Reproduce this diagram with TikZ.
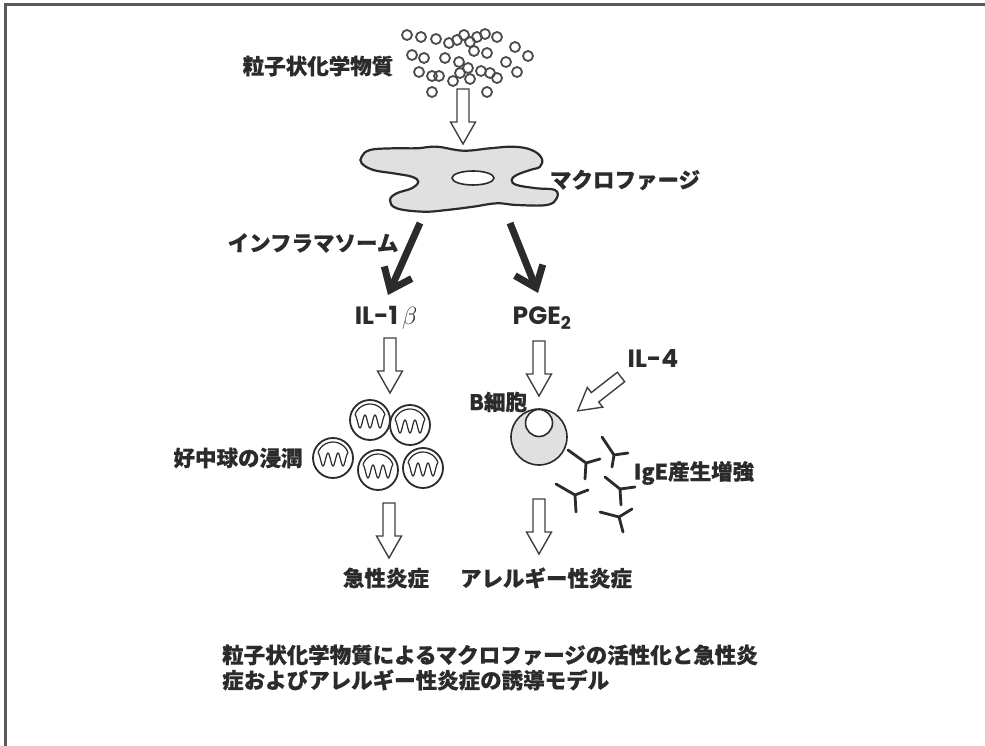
\documentclass[tikz,border=0pt]{standalone}
\usepackage{fontspec}
\newfontfamily\jp{Noto Sans CJK JP}[BoldFeatures={FakeBold=0.6}]
\newfontfamily\lab{Poppins}
\usetikzlibrary{arrows.meta}
\definecolor{ink}{HTML}{2B2B2B}
\definecolor{frame}{HTML}{5A5A5A}
\definecolor{cellgray}{HTML}{E0E0E0}

\tikzset{
  jtext/.style={text=ink, inner sep=0pt, font=\jp\bfseries\fontsize{21.5pt}{25pt}\selectfont},
  ltext/.style={text=ink, inner sep=0pt, font=\lab\bfseries\fontsize{25pt}{28pt}\selectfont},
  particle/.style={draw=ink!85, line width=1.8pt},
  harrowline/.style={draw=ink!90, line width=1.4pt, fill=white, line join=miter},
  boldarrow/.style={draw=ink, line width=7pt, -{Straight Barb[length=19pt,width=30pt,line width=7pt]}},
  antibody/.style={draw=ink, line width=2.8pt, line cap=round},
  % hollow block arrow pointing along +y (downwards on the page)
  harrow/.pic={
    \draw[harrowline] (-6,0) -- (-6,33) -- (-12.5,33) -- (0,55) -- (12.5,33) -- (6,33) -- (6,0) -- cycle;
  },
  % neutrophil with a segmented nucleus
  neutro/.pic={
    \draw[draw=ink, line width=1.8pt, fill=white] (0,0) circle[radius=20];
    \draw[draw=ink, line width=1.2pt, line join=round]
      (200:16) arc[start angle=200, end angle=340, radius=16]
      plot[domain=15:-15, samples=61, smooth] (\x, {1.5+6.5*cos(36*\x)});
  }
}

\begin{document}
\begin{tikzpicture}[x=1pt, y=-1pt]
\useasboundingbox (0,0) rectangle (985,746);

% frame
\draw[frame, line width=3pt] (5,746) -- (5,5) -- (985,5);

% particulate chemicals
\node[jtext] (chem) at (318,66) {粒子状化学物質};
\foreach \x/\y in {407/35, 421/37, 436/39, 449/43, 457/40, 464/35, 470/42, 477/37,
  485/34, 497/37, 474/51, 487/53, 515/47, 412/55, 424/58, 445/58, 459/62, 506/62,
  528/56, 419/72, 432/76, 439/76, 460/73, 468/68, 481/71, 490/73, 497/78, 517/72,
  453/81, 470/79, 432/92, 487/92}
  \draw[particle] (\x,\y) circle[radius=5];

\pic at (463,89) {harrow};

% macrophage
\path[draw=ink, line width=2.2pt, fill=cellgray] plot[smooth cycle, tension=0.65] coordinates {
  (361.7,156.7) (370,150) (393.3,148.3) (416.7,148.3) (436.7,146.7) (463.3,150.7)
  (490,148.3) (513.3,146.7) (531.7,150) (541.7,158.3) (540,166.7) (530,170)
  (516.7,175) (511.7,180) (516.7,185) (536.7,188.3) (555,190) (556.7,198.3)
  (546.7,205) (516.7,205) (496.7,203.3) (473.3,206.7) (446.7,210) (423.3,211.7)
  (396.7,208.3) (390,200) (396.7,193.3) (411.7,188.3) (418.3,181.7) (411.7,176.7)
  (393.3,173.3) (373.3,170) (361.7,163.3)};
\draw[draw=ink, line width=1.6pt, fill=white] (473,178) ellipse[x radius=21, y radius=7];
\node[jtext] (mac) at (625,180) {マクロファージ};

% pathways out of the macrophage
\coordinate (m1) at (420,223);
\coordinate (m2) at (510,223);
\coordinate (t1) at (388,295);
\coordinate (t2) at (538,293);
\draw[boldarrow] (m1) -- (t1);
\draw[boldarrow] (m2) -- (t2);
\node[jtext] (infl) at (313,243) {インフラマソーム};

\node[ltext] (il1b) at (386,318) {IL-1\,{\mdseries\fontsize{27pt}{28pt}\selectfont$\beta$}};
\node[ltext] (pge) at (542,318) {PGE\textsubscript{2}};

% acute branch
\pic at (390,338) {harrow};
\pic at (370,420) {neutro};
\pic at (410,425) {neutro};
\pic at (333,458) {neutro};
\pic at (378,470) {neutro};
\pic at (423,468) {neutro};
\node[jtext] (neut) at (238,458) {好中球の浸潤};
\pic at (389,503) {harrow};
\node[jtext] (acute) at (386,578) {急性炎症};

% allergic branch
\pic at (539,341) {harrow};
\node[ltext] (il4) at (653,358) {IL-4};
\pic[rotate=-52] at (621,377) {harrow};
\node[jtext] (bcell) at (498,402) {B細胞};
\draw[draw=ink, line width=1.6pt, fill=cellgray] (539,437) circle[radius=28];
\draw[draw=ink, line width=1.6pt, fill=white] (539,423) circle[radius=13.5];

\foreach \vx/\vy/\ax/\ay/\bx/\by/\sx/\sy in {
  586/463/568/450/600/459/585/479,
  614/455/602/437/628/453/612/467,
  575/495/556/484/588/490/576/512,
  620/489/605/477/635/487/621/505,
  619/517/600/512/632/509/623/532}
  \draw[antibody] (\ax,\ay) -- (\vx,\vy) -- (\bx,\by) (\vx,\vy) -- (\sx,\sy);
\node[jtext] (ige) at (694,473) {IgE産生増強};

\pic at (539,499) {harrow};
\node[jtext] (allergy) at (546,578) {アレルギー性炎症};

% caption
\node[jtext, anchor=west] (cap1) at (222,655) {粒子状化学物質によるマクロファージの活性化と急性炎};
\node[jtext, anchor=west] (cap2) at (222,680) {症およびアレルギー性炎症の誘導モデル};
\end{tikzpicture}
\end{document}
